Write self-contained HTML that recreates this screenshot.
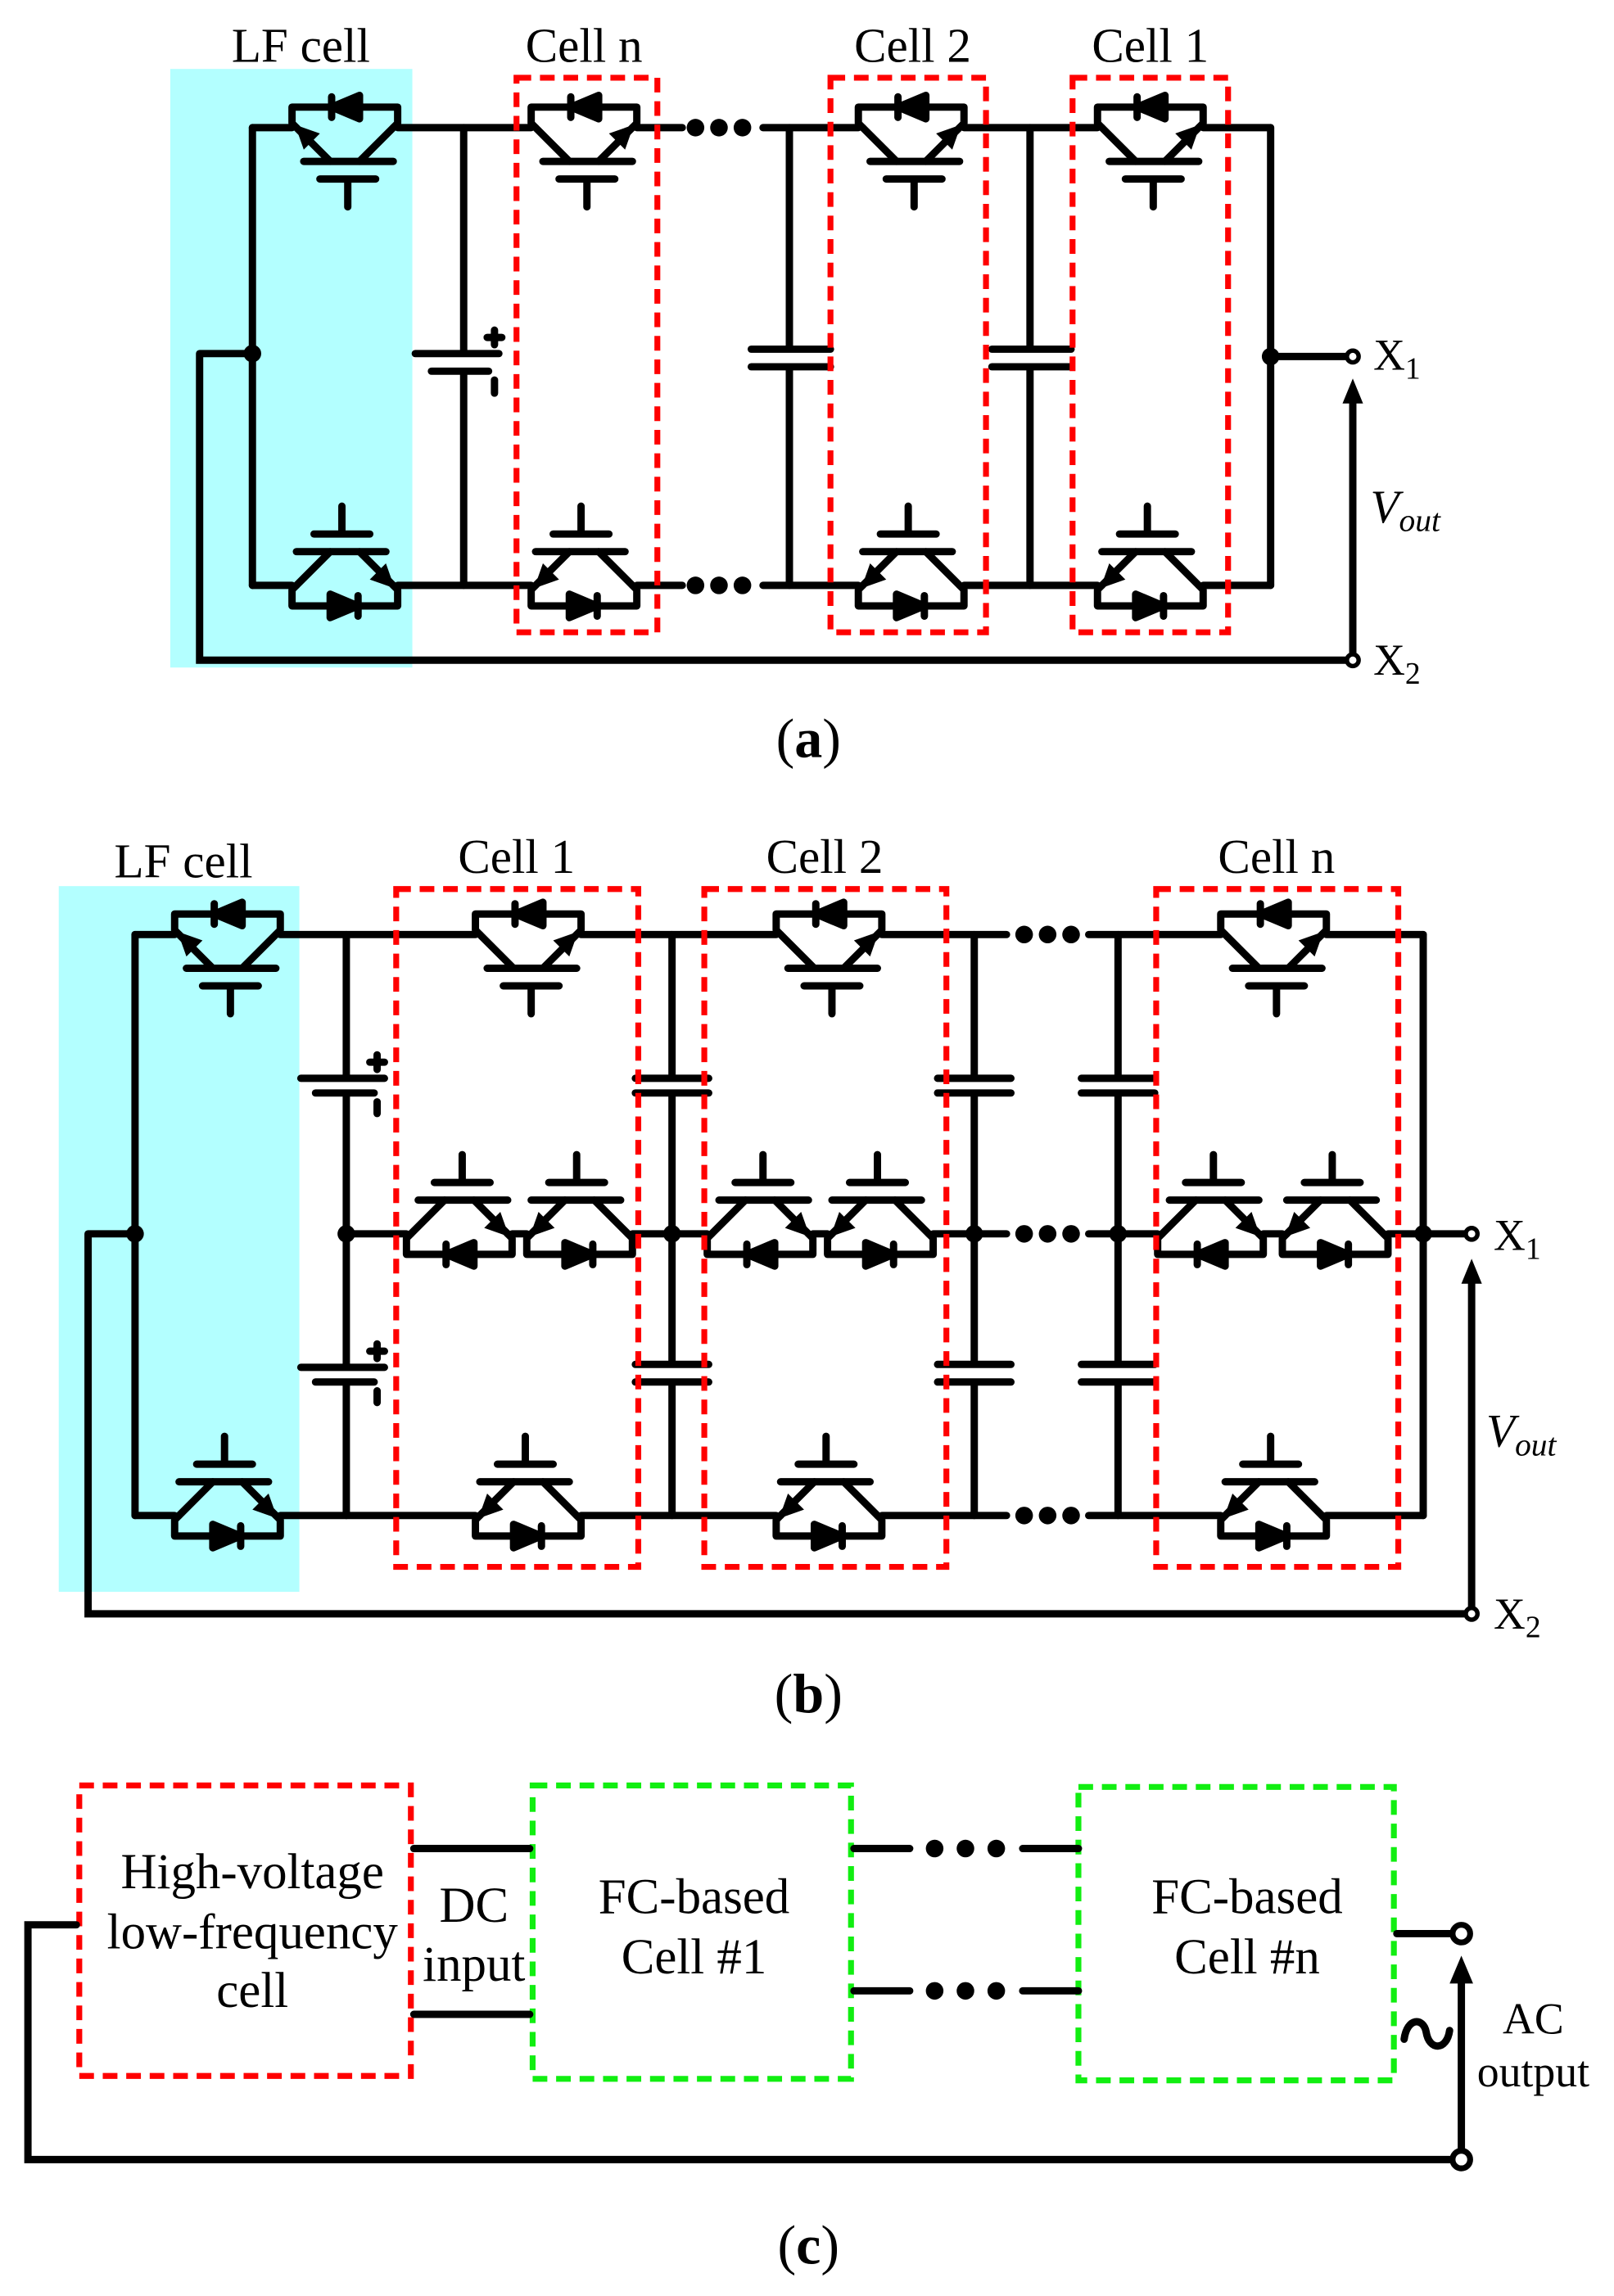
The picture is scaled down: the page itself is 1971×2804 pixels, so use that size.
<!DOCTYPE html>
<html><head><meta charset="utf-8"><style>
html,body{margin:0;padding:0;background:#fff}
svg{display:block}
text{font-family:"Liberation Serif",serif;fill:#000}
</style></head><body>
<svg width="1971" height="2804" viewBox="0 0 1100 1565" xmlns="http://www.w3.org/2000/svg">
<defs>
<g id="base" stroke="#000" stroke-width="5" stroke-linecap="round" stroke-linejoin="round" fill="none">
<path d="M-33,0 L-36,-3 V-14 H36 V-3 L33,0"/>
<path d="M-33,0 L-10,23 M33,0 L10,23"/>
<path d="M-28,23 H33"/>
<path d="M-17,35 H21 M2,35 V54"/>
<path d="M-9,-21 V-7"/>
<polygon points="-9,-14 10,-22 10,-6" fill="#000"/>
</g>
<polygon id="arrR" points="34,-2 28,15 17,4" fill="#000"/>
<polygon id="arrL" points="-34,-2 -28,15 -17,4" fill="#000"/>
<g id="TR"><use href="#base"/><use href="#arrR"/></g>
<g id="TL"><use href="#base"/><use href="#arrL"/></g>
</defs>

<!-- ============ (a) ============ -->
<rect x="116" y="47" width="165" height="408" fill="#b3ffff"/>
<g font-size="33" text-anchor="middle">
<text x="205" y="42">LF cell</text>
<text x="398" y="42">Cell n</text>
<text x="622" y="42">Cell 2</text>
<text x="784" y="42">Cell 1</text>
</g>
<g stroke="#000" stroke-width="5" stroke-linecap="round" fill="none">
<path d="M172,87 H199 M271,87 H362 M434,87 H465 M520,87 H585 M657,87 H748 M820,87 H866"/>
<path d="M172,399 H199 M271,399 H362 M434,399 H465 M520,399 H585 M657,399 H748 M820,399 H866"/>
<path d="M172,87 V399 M136,241 H172 M136,241 V450 H917"/>
<path d="M866,87 V399 M866,243 H917"/>
<path d="M316,87 V241 M316,253 V399 M283,241 H340 M294,253 H333"/>
<path d="M337,225 V235 M332,230 H342 M337,259 V268"/>
<path d="M538,87 V238 M538,250 V399 M512,238 H566 M512,250 H566"/>
<path d="M702,87 V238 M702,250 V399 M676,238 H730 M676,250 H730"/>
<path d="M922,445 V270"/>
</g>
<polygon points="922,258 915,275 929,275" fill="#000"/>
<circle cx="172" cy="241" r="6"/><circle cx="866" cy="243" r="6"/>
<circle cx="922" cy="243" r="4" fill="#fff" stroke="#000" stroke-width="3"/>
<circle cx="922" cy="450" r="4" fill="#fff" stroke="#000" stroke-width="3"/>
<g fill="#000"><circle cx="474" cy="87" r="6"/><circle cx="490" cy="87" r="6"/><circle cx="506" cy="87" r="6"/>
<circle cx="474" cy="399" r="6"/><circle cx="490" cy="399" r="6"/><circle cx="506" cy="399" r="6"/></g>
<use href="#TL" transform="translate(235,87)"/>
<use href="#TR" transform="translate(398,87)"/>
<use href="#TR" transform="translate(621,87)"/>
<use href="#TR" transform="translate(784,87)"/>
<use href="#TL" transform="translate(235,399) rotate(180)"/>
<use href="#TR" transform="translate(398,399) rotate(180)"/>
<use href="#TR" transform="translate(621,399) rotate(180)"/>
<use href="#TR" transform="translate(784,399) rotate(180)"/>
<g fill="none" stroke="#f00" stroke-width="4" stroke-dasharray="10,6">
<rect x="352" y="53" width="96" height="378"/>
<rect x="566" y="53" width="106" height="378"/>
<rect x="731" y="53" width="106" height="378"/>
</g>
<text x="936" y="252" font-size="30">X<tspan font-size="21" dy="6">1</tspan></text>
<text x="936" y="460" font-size="30">X<tspan font-size="21" dy="6">2</tspan></text>
<text x="934" y="356" font-size="32" font-style="italic">V<tspan font-size="22" dy="6">out</tspan></text>
<text x="551" y="516" font-size="38" text-anchor="middle">(<tspan font-weight="bold">a</tspan>)</text>

<!-- ============ (b) ============ -->
<rect x="40" y="604" width="164" height="481" fill="#b3ffff"/>
<g font-size="33" text-anchor="middle">
<text x="125" y="598">LF cell</text>
<text x="352" y="595">Cell 1</text>
<text x="562" y="595">Cell 2</text>
<text x="870" y="595">Cell n</text>
</g>
<g stroke="#000" stroke-width="5" stroke-linecap="round" fill="none">
<path d="M92,637 H119 M191,637 H324 M396,637 H529 M601,637 H686 M742,637 H832 M904,637 H970"/>
<path d="M92,1033 H119 M191,1033 H324 M396,1033 H529 M601,1033 H686 M742,1033 H832 M904,1033 H970"/>
<path d="M236,841 H277 M349,841 H359 M431,841 H482 M554,841 H564 M636,841 H686 M742,841 H789 M861,841 H874 M946,841 H1000"/>
<path d="M92,637 V1033 M60,841 H92 M60,841 V1100 H998"/>
<path d="M970,637 V1033"/>
<path d="M236,637 V735 M236,745 V932 M236,942 V1033 M205,735 H262 M215,745 H255 M205,932 H262 M215,942 H255"/>
<path d="M257,719 V729 M252,724 H262 M257,751 V759 M257,916 V926 M252,921 H262 M257,948 V956"/>
<path d="M458,637 V735 M458,745 V930 M458,942 V1033 M433,735 H483 M433,745 H483 M433,930 H483 M433,942 H483"/>
<path d="M664,637 V735 M664,745 V930 M664,942 V1033 M639,735 H689 M639,745 H689 M639,930 H689 M639,942 H689"/>
<path d="M762,637 V735 M762,745 V930 M762,942 V1033 M737,735 H787 M737,745 H787 M737,930 H787 M737,942 H787"/>
<path d="M1003,1095 V870"/>
</g>
<polygon points="1003,858 996,875 1010,875" fill="#000"/>
<g fill="#000">
<circle cx="92" cy="841" r="6"/><circle cx="236" cy="841" r="6"/><circle cx="458" cy="841" r="6"/>
<circle cx="664" cy="841" r="6"/><circle cx="762" cy="841" r="6"/><circle cx="970" cy="841" r="6"/>
<circle cx="698" cy="637" r="6"/><circle cx="714" cy="637" r="6"/><circle cx="730" cy="637" r="6"/>
<circle cx="698" cy="841" r="6"/><circle cx="714" cy="841" r="6"/><circle cx="730" cy="841" r="6"/>
<circle cx="698" cy="1033" r="6"/><circle cx="714" cy="1033" r="6"/><circle cx="730" cy="1033" r="6"/>
</g>
<circle cx="1003" cy="841" r="4" fill="#fff" stroke="#000" stroke-width="3"/>
<circle cx="1003" cy="1100" r="4" fill="#fff" stroke="#000" stroke-width="3"/>
<use href="#TL" transform="translate(155,637)"/>
<use href="#TL" transform="translate(155,1033) rotate(180)"/>
<use href="#TR" transform="translate(360,637)"/>
<use href="#TR" transform="translate(565,637)"/>
<use href="#TR" transform="translate(868,637)"/>
<use href="#TR" transform="translate(360,1033) rotate(180)"/>
<use href="#TR" transform="translate(565,1033) rotate(180)"/>
<use href="#TR" transform="translate(868,1033) rotate(180)"/>
<use href="#TR" transform="translate(313,841) scale(1,-1)"/>
<use href="#TR" transform="translate(395,841) rotate(180)"/>
<use href="#TR" transform="translate(518,841) scale(1,-1)"/>
<use href="#TR" transform="translate(600,841) rotate(180)"/>
<use href="#TR" transform="translate(825,841) scale(1,-1)"/>
<use href="#TR" transform="translate(910,841) rotate(180)"/>
<g fill="none" stroke="#f00" stroke-width="4" stroke-dasharray="10,6">
<rect x="270" y="606" width="165" height="462"/>
<rect x="480" y="606" width="165" height="462"/>
<rect x="788" y="606" width="165" height="462"/>
</g>
<text x="1018" y="852" font-size="30">X<tspan font-size="21" dy="6">1</tspan></text>
<text x="1018" y="1110" font-size="30">X<tspan font-size="21" dy="6">2</tspan></text>
<text x="1013" y="986" font-size="32" font-style="italic">V<tspan font-size="22" dy="6">out</tspan></text>
<text x="551" y="1167" font-size="38" text-anchor="middle">(<tspan font-weight="bold">b</tspan>)</text>

<!-- ============ (c) ============ -->
<g fill="none" stroke-width="4" stroke-dasharray="10,6">
<rect x="54" y="1217" width="226" height="198" stroke="#f00"/>
<rect x="363" y="1217" width="217" height="200" stroke="#1e1"/>
<rect x="735" y="1218" width="215" height="200" stroke="#1e1"/>
</g>
<g stroke="#000" stroke-width="5" stroke-linecap="round" fill="none">
<path d="M282,1260 H361 M282,1373 H361"/>
<path d="M582,1260 H620 M697,1260 H735 M582,1357 H620 M697,1357 H735"/>
<path d="M952,1318 H990"/>
<path d="M52,1312 H19 V1472 H990"/>
<path d="M996,1465 V1345"/>
<path d="M957,1390 C959,1375 970,1375 972,1385 C974,1398 986,1398 988,1384"/>
</g>
<polygon points="996,1333 988,1352 1004,1352" fill="#000"/>
<g fill="#000">
<circle cx="637" cy="1260" r="6"/><circle cx="658" cy="1260" r="6"/><circle cx="679" cy="1260" r="6"/>
<circle cx="637" cy="1357" r="6"/><circle cx="658" cy="1357" r="6"/><circle cx="679" cy="1357" r="6"/>
</g>
<circle cx="996" cy="1318" r="6" fill="#fff" stroke="#000" stroke-width="4"/>
<circle cx="996" cy="1472" r="6" fill="#fff" stroke="#000" stroke-width="4"/>
<g font-size="34" text-anchor="middle">
<text x="172" y="1287">High-voltage</text>
<text x="172" y="1328">low-frequency</text>
<text x="172" y="1368">cell</text>
<text x="323" y="1310">DC</text>
<text x="323" y="1350">input</text>
<text x="473" y="1304">FC-based</text>
<text x="473" y="1345">Cell #1</text>
<text x="850" y="1304">FC-based</text>
<text x="850" y="1345">Cell #n</text>
<text x="1045" y="1386" font-size="30">AC</text>
<text x="1045" y="1422" font-size="30">output</text>
</g>
<text x="551" y="1543" font-size="38" text-anchor="middle">(<tspan font-weight="bold">c</tspan>)</text>
</svg>
</body></html>
